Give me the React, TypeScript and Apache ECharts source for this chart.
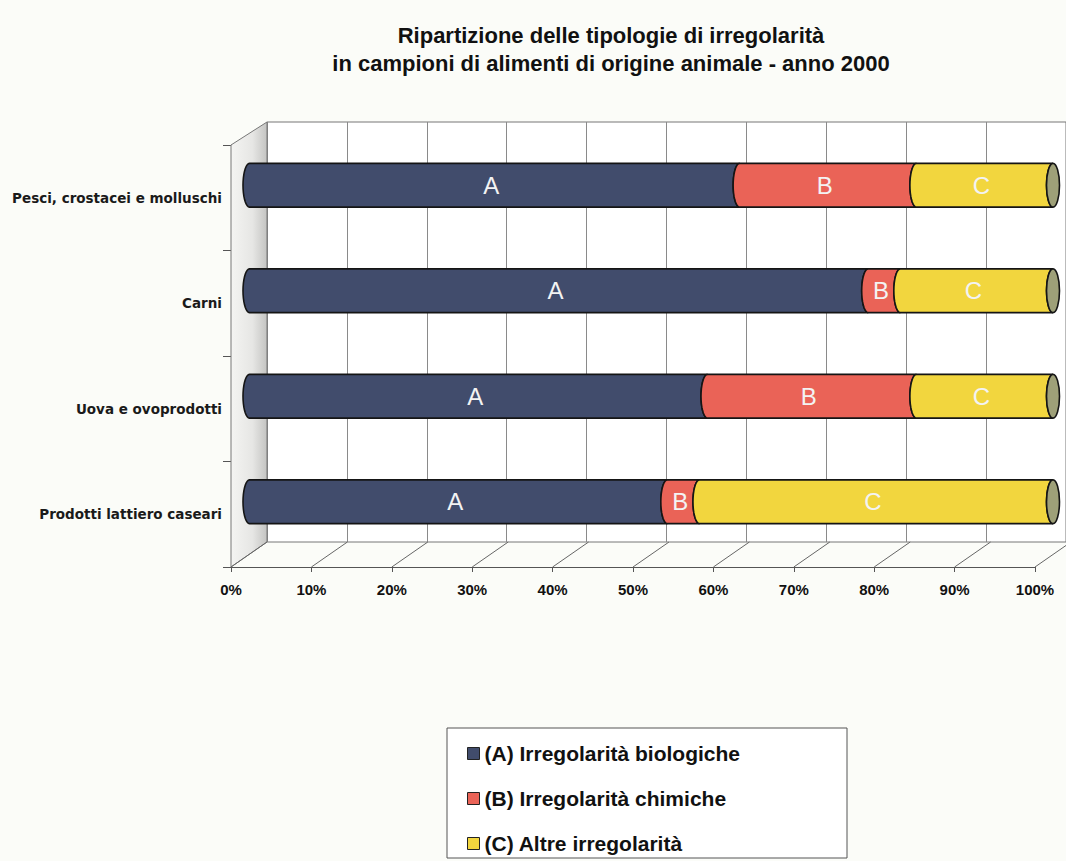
import React, { useEffect, useRef } from "react";
import * as echarts from "echarts";

const categories = [
  "Pesci, crostacei e molluschi",
  "Carni",
  "Uova e ovoprodotti",
  "Prodotti lattiero caseari",
];
const seriesNames = [
  "(A) Irregolarità biologiche",
  "(B) Irregolarità chimiche",
  "(C) Altre irregolarità",
];
const segLetters = ["A", "B", "C"];
const valuesA = [61, 77, 57, 52];
const valuesB = [22, 4, 26, 4];
const valuesC = [17, 19, 17, 44];
const xTicks = [0, 10, 20, 30, 40, 50, 60, 70, 80, 90, 100];

const colors = ["#414c6c", "#ea6357", "#f2d63e"];
const capColor = "#9ea078";
const FONT = '"Liberation Sans", Arial, sans-serif';

export default function App() {
  const ref = useRef<HTMLDivElement>(null);
  useEffect(() => {
    if (!ref.current) return;
    const chart = echarts.init(ref.current, undefined, { renderer: "svg" });
    const all = [valuesA, valuesB, valuesC];
    const segData = all.map((vals, si) =>
      vals.map((v, ci) => {
        let start = 0;
        for (let k = 0; k < si; k++) start += all[k][ci];
        return [ci, start, start + v];
      })
    );
    const makeRender = (si: number) => (params: any, api: any) => {
      const cat = api.value(0);
      const s = api.value(1);
      const e = api.value(2);
      const p0 = api.coord([s, cat]);
      const p1 = api.coord([e, cat]);
      const band = api.size([0, 1])[1];
      const ry = (band * 0.415) / 2;
      const rx = 6.5;
      const yc = p0[1];
      const pts: number[][] = [];
      const N = 18;
      for (let i = 0; i <= N; i++) {
        const t = (Math.PI * i) / N;
        pts.push([p1[0] - rx * Math.sin(t), yc - ry * Math.cos(t)]);
      }
      for (let i = 0; i <= N; i++) {
        const t = (Math.PI * i) / N;
        pts.push([p0[0] - rx * Math.sin(t), yc + ry * Math.cos(t)]);
      }
      const children: any[] = [
        {
          type: "polygon",
          shape: { points: pts },
          style: { fill: colors[si], stroke: "#151515", lineWidth: 1.6 },
        },
        {
          type: "text",
          x: (p0[0] + p1[0]) / 2 - rx / 2,
          y: yc,
          style: {
            text: segLetters[si],
            fill: "#f3f3f3",
            fontSize: 24,
            fontFamily: FONT,
            align: "center",
            verticalAlign: "middle",
          },
        },
      ];
      if (si === 2) {
        children.push({
          type: "ellipse",
          shape: { cx: p1[0], cy: yc, rx: rx, ry: ry },
          style: { fill: capColor, stroke: "#151515", lineWidth: 1.6 },
        });
      }
      return { type: "group", children };
    };

    const option: any = {
      animation: false,
      backgroundColor: "#fbfcf8",
      title: {
        text: "Ripartizione delle tipologie di irregolarità\nin campioni di alimenti di origine animale - anno 2000",
        left: 606,
        textAlign: "center",
        top: 16,
        textStyle: {
          fontFamily: FONT,
          fontWeight: "bold",
          fontSize: 22,
          lineHeight: 28,
          color: "#111",
        },
      },
      legend: {
        orient: "vertical",
        left: 462,
        top: 738,
        itemWidth: 12,
        itemHeight: 12,
        itemGap: 24,
        icon: "rect",
        selectedMode: false,
        itemStyle: { borderColor: "#222", borderWidth: 1 },
        textStyle: {
          fontFamily: FONT,
          fontWeight: "bold",
          fontSize: 21,
          color: "#111",
        },
        data: seriesNames,
      },
      graphic: [
        {
          type: "rect",
          shape: { x: 447, y: 728, width: 400, height: 130 },
          style: { fill: "#ffffff", stroke: "#555", lineWidth: 1 },
          z: -1,
        },
        {
          type: "polygon",
          shape: {
            points: [
              [231, 145],
              [267, 122],
              [267, 542],
              [231, 567],
            ],
          },
          style: {
            fill: {
              type: "linear",
              x: 0,
              y: 0,
              x2: 1,
              y2: 0,
              colorStops: [
                { offset: 0, color: "#f4f4f2" },
                { offset: 0.6, color: "#e6e6e4" },
                { offset: 1, color: "#c4c4c2" },
              ],
            },
            stroke: "#777",
            lineWidth: 1,
          },
          z: 1,
        },
      ],
      grid: [
        { left: 249.5, top: 132.5, width: 803.5, height: 422 },
        {
          left: 267,
          top: 122,
          width: 808,
          height: 420,
          show: true,
          backgroundColor: "#ffffff",
          borderColor: "#777",
          borderWidth: 1,
        },
        { left: 231, top: 145, width: 804, height: 422 },
      ],
      xAxis: [
        { gridIndex: 0, type: "value", min: 0, max: 100, show: false },
        {
          gridIndex: 1,
          type: "value",
          min: 0,
          max: 100,
          interval: 10,
          axisLine: { show: false },
          axisTick: { show: false },
          axisLabel: { show: false },
          splitLine: { show: true, lineStyle: { color: "#8a8a8a", width: 1 } },
        },
        {
          gridIndex: 2,
          type: "value",
          min: 0,
          max: 100,
          interval: 10,
          axisLine: { show: true, lineStyle: { color: "#555" } },
          axisTick: { show: true, length: 5, lineStyle: { color: "#555" } },
          splitLine: { show: false },
          axisLabel: {
            formatter: "{value}%",
            margin: 15,
            fontFamily: FONT,
            fontWeight: "bold",
            fontSize: 15,
            color: "#111",
          },
        },
      ],
      yAxis: [
        {
          gridIndex: 0,
          type: "category",
          data: categories,
          inverse: true,
          show: false,
        },
        { gridIndex: 1, type: "value", show: false },
        {
          gridIndex: 2,
          type: "category",
          data: categories,
          inverse: true,
          axisLine: { show: true, lineStyle: { color: "#555" } },
          axisTick: { show: true, length: 8, lineStyle: { color: "#555" } },
          axisLabel: {
            margin: 9,
            fontFamily: '"DejaVu Sans", Verdana, sans-serif',
            fontWeight: "bold",
            fontSize: 13.5,
            color: "#1a1a1a",
          },
        },
      ],
      series: [
        {
          type: "custom",
          name: "floor",
          xAxisIndex: 2,
          yAxisIndex: 2,
          silent: true,
          z: 1,
          data: xTicks.map((v) => [v, 0]),
          encode: { x: 0, y: 1 },
          renderItem: (params: any, api: any) => {
            const x = api.coord([api.value(0), 0])[0];
            const cs = params.coordSys;
            const yb = cs.y + cs.height;
            return {
              type: "line",
              shape: { x1: x, y1: yb, x2: x + 36, y2: yb - 25 },
              style: { stroke: "#666", lineWidth: 1 },
            };
          },
        },
        ...segData.map((d, si) => ({
          type: "custom",
          name: seriesNames[si],
          xAxisIndex: 0,
          yAxisIndex: 0,
          z: 5,
          itemStyle: { color: colors[si] },
          data: d,
          encode: { x: [1, 2], y: 0 },
          renderItem: makeRender(si),
        })),
      ],
    };
    chart.setOption(option);
    return () => chart.dispose();
  }, []);
  return (
    <div
      ref={ref}
      style={{ position: "fixed", left: 0, top: 0, width: 1066, height: 861 }}
    />
  );
}
